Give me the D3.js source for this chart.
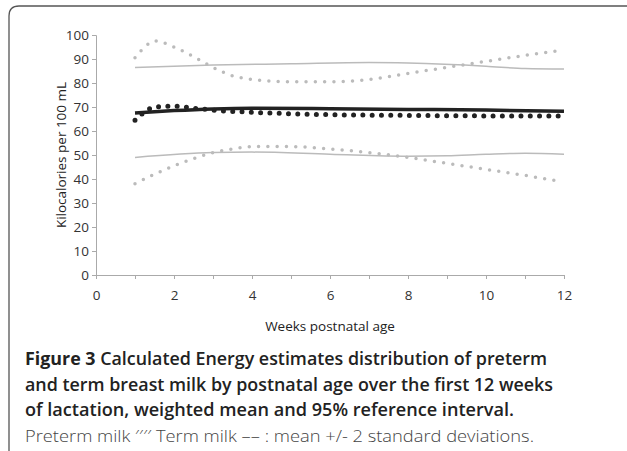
<!DOCTYPE html>
<html><head><meta charset="utf-8">
<script src="https://cdn.jsdelivr.net/npm/d3@7"></script>
<style>body{margin:0;background:#fff;font-family:"Open Sans",sans-serif}</style>
</head><body>
<svg id="chart" width="627" height="451"></svg>
<script>
var pretermMean = [[1,64.5],[1.25,68],[1.5,70],[2,70.3],[2.5,69.5],[3,68.7],[4,67.8],[5,67.2],[6,66.8],[8,66.5],[10,66.3],[12,66.3]];
var pretermUpper = [[1,90.5],[1.25,95],[1.5,97.5],[2,95],[2.5,91],[3,86.5],[3.5,83],[4,81.5],[5,80.5],[6,80.5],[7,81.5],[8,84],[9,86.5],[10,89],[11,91.5],[12,93.8]];
var pretermLower = [[1,38],[1.5,42],[2,45.5],[2.5,48.5],[3,51],[3.5,52.5],[4,53.5],[5,53.5],[6,52.5],[7,51],[8,49],[9,46.5],[10,44],[11,41.5],[11.9,39]];
var termMean = [[1,67.5],[2,68.5],[3,69.2],[4,69.5],[6,69.3],[8,69],[10,68.7],[12,68.2]];
var termUpper = [[1,86.5],[3,87.5],[5,88],[7,88.5],[8,88.3],[10,87],[11,86],[12,85.8]];
var termLower = [[1,49],[3,51],[4,51.2],[6,50.3],[8,49.5],[9,49.7],[10,50.3],[11,50.7],[12,50.3]];
var xTicks = d3.range(0, 13, 2);
var yTicks = d3.range(0, 101, 10);

var svg = d3.select("#chart");
svg.append("path").attr("d", "M9,451 V16 Q9,6 19,6 H627").attr("fill","none").attr("stroke","#555").attr("stroke-width",1.3);

var x = d3.scaleLinear().domain([0,12]).range([96,564]);
var y = d3.scaleLinear().domain([0,100]).range([275,35]);

var xAxis = svg.append("g").attr("transform","translate(0,275)")
  .call(d3.axisBottom(x).tickValues(d3.range(0,13)).tickSize(4).tickFormat(d => xTicks.includes(d) ? d : ""));
var yAxis = svg.append("g").attr("transform","translate(96,0)")
  .call(d3.axisLeft(y).tickValues(yTicks).tickSize(4));
[xAxis, yAxis].forEach(function(a){
  a.selectAll("path,line").attr("stroke","#aaa");
  a.selectAll("text").attr("fill","#333").style("font-size","13.5px").style("font-family","Open Sans");
});
xAxis.selectAll("text").attr("dy","1.3em");

var line = d3.line().x(d => x(d[0])).y(d => y(d[1])).curve(d3.curveMonotoneX);
function draw(data, color, width, dash) {
  var p = svg.append("path").datum(data).attr("d", line).attr("fill","none")
    .attr("stroke", color).attr("stroke-width", width);
  if (dash) p.attr("stroke-dasharray", dash).attr("stroke-linecap","round");
}
draw(termUpper, "#bbb", 1.5);
draw(termLower, "#bbb", 1.5);
draw(pretermUpper, "#bbb", 3.5, "0 9.3");
draw(pretermLower, "#bbb", 3.5, "0 9.3");
draw(termMean, "#222", 3.5);
draw(pretermMean, "#222", 5, "0 9.3");

svg.append("text").attr("transform","translate(66,155) rotate(-90)").attr("text-anchor","middle")
  .style("font-size","13.5px").attr("fill","#222").text("Kilocalories per 100 mL");
svg.append("text").attr("x",330).attr("y",331).attr("text-anchor","middle")
  .style("font-size","13.5px").attr("fill","#222").text("Weeks postnatal age");

var caption = ["Figure 3 Calculated Energy estimates distribution of preterm",
  "and term breast milk by postnatal age over the first 12 weeks",
  "of lactation, weighted mean and 95% reference interval."];
var capWidths = [522, 528, 489];
caption.forEach(function(t, i){
  var tx = svg.append("text").attr("x",25).attr("y",365 + i*25.5)
    .attr("textLength", capWidths[i]).attr("lengthAdjust","spacingAndGlyphs")
    .style("font-size","18px").style("font-weight","600").attr("fill","#222");
  if (i === 0) { tx.append("tspan").style("font-weight","bold").text("Figure 3"); tx.append("tspan").text(t.slice(8)); }
  else tx.text(t);
});
svg.append("text").attr("x",25).attr("y",442).attr("textLength",509).attr("lengthAdjust","spacingAndGlyphs")
  .style("font-size","17px").attr("fill","#444").style("font-weight","300")
  .text("Preterm milk \u2032\u2032\u2032\u2032 Term milk \u2013\u2013 : mean +/- 2 standard deviations.");
</script>
</body></html>
